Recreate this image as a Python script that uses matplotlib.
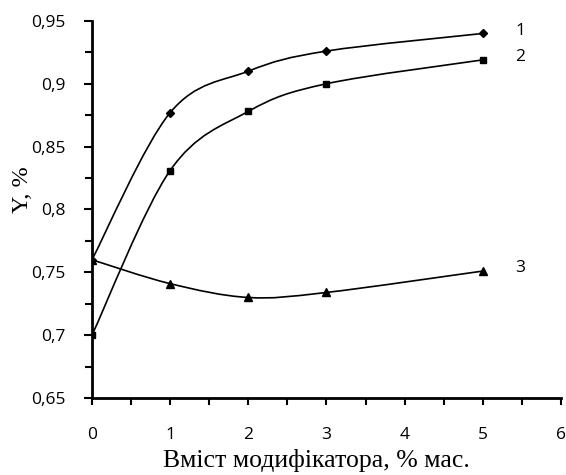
import numpy as np
import matplotlib.pyplot as plt
from matplotlib.path import Path
from matplotlib.patches import PathPatch
from matplotlib.ticker import MultipleLocator, FuncFormatter

# data
x = [0, 1, 2, 3, 5]
y1 = [0.760, 0.877, 0.910, 0.926, 0.940]
y2 = [0.700, 0.831, 0.878, 0.900, 0.919]
y3 = [0.760, 0.741, 0.730, 0.734, 0.751]
curve_labels = ['1', '2', '3']
markers = ['D', 's', '^']
marker_sizes = [4, 4, 5.5]


def smooth_path(xs, ys):
    # Excel-like smoothed line: cubic Bezier segments through the points
    pts = np.column_stack([xs, ys]).astype(float)
    ext = np.vstack([pts[0], pts, pts[-1]])
    verts = [tuple(pts[0])]
    codes = [Path.MOVETO]
    for i in range(len(pts) - 1):
        p0, p1, p2, p3 = ext[i], ext[i + 1], ext[i + 2], ext[i + 3]
        c1 = p1 + (p2 - p0) / 6
        c2 = p2 - (p3 - p1) / 6
        verts += [tuple(c1), tuple(c2), tuple(p2)]
        codes += [Path.CURVE4] * 3
    return Path(verts, codes)


fig = plt.figure(figsize=(5.66, 4.75), dpi=100)
ax = fig.add_axes([0.1625, 0.162, 0.8285, 0.794])

for ys, m, ms in zip([y1, y2, y3], markers, marker_sizes):
    ax.add_patch(PathPatch(smooth_path(x, ys), facecolor='none', edgecolor='black', lw=1.2))
    ax.plot(x, ys, linestyle='none', marker=m, markersize=ms, color='black')

for ys, lab in zip([y1, y2, y3], curve_labels):
    ax.annotate(lab, (x[-1], ys[-1]), xytext=(27, 2), textcoords='offset points',
                fontsize=12.5, family='Open Sans', va='center', ha='center')

ax.set_xlim(0, 6)
ax.set_ylim(0.65, 0.95)
ax.xaxis.set_major_locator(MultipleLocator(1))
ax.xaxis.set_minor_locator(MultipleLocator(0.5))
ax.yaxis.set_major_locator(MultipleLocator(0.05))
ax.yaxis.set_minor_locator(MultipleLocator(0.025))
ax.yaxis.set_major_formatter(FuncFormatter(lambda v, p: f'{v:g}'.replace('.', ',')))

for s in ['top', 'right']:
    ax.spines[s].set_visible(False)
for s in ['left', 'bottom']:
    ax.spines[s].set_linewidth(2)

ax.tick_params(axis='both', which='both', direction='out', width=1.5, labelsize=12.5)
ax.tick_params(axis='y', which='major', length=6, pad=13)
ax.tick_params(axis='y', which='minor', length=5)
ax.tick_params(axis='x', which='both', length=5, pad=16)
for t in ax.get_xticklabels() + ax.get_yticklabels():
    t.set_family('Open Sans')

ax.set_xlabel('Вміст модифікатора, % мас.', family='Liberation Serif', fontsize=18.5, va='center')
ax.set_ylabel('Y, %', family='Liberation Serif', fontsize=17.5, va='center')
ax.xaxis.set_label_coords(0.479, -0.165)
ax.yaxis.set_label_coords(-0.149, 0.552)

fig.savefig('out.png', dpi=100)
